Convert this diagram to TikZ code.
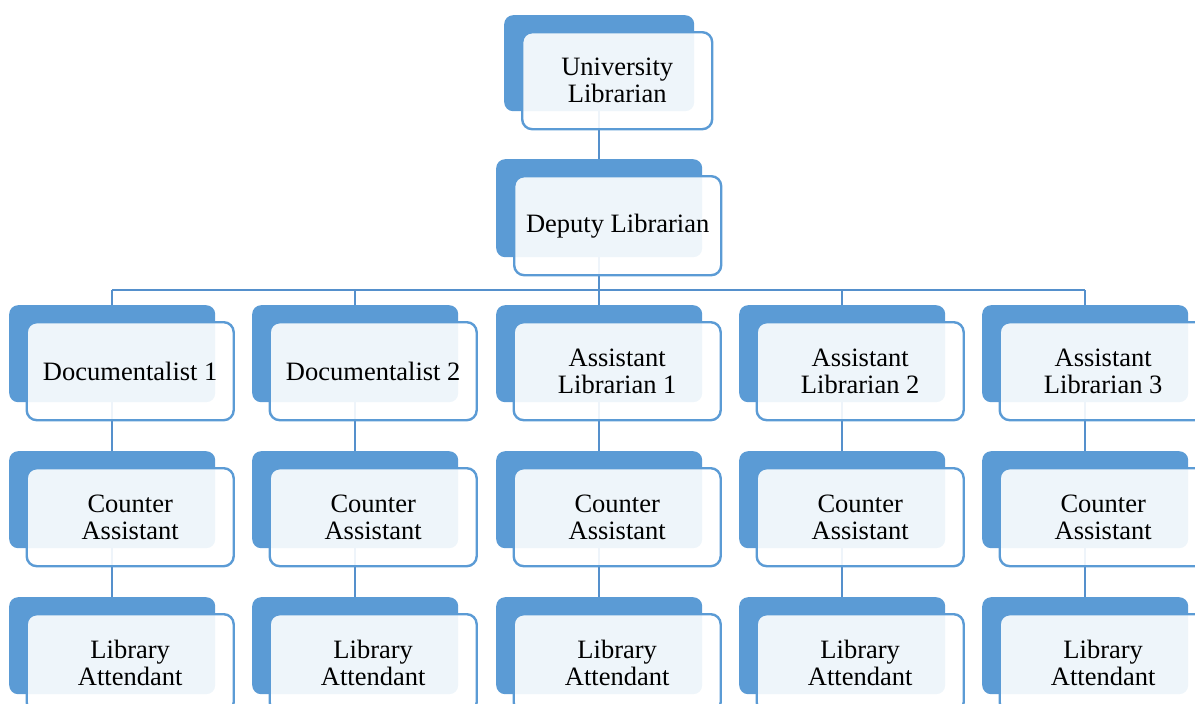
\documentclass[tikz,border=0pt]{standalone}
\usepackage{fontspec}
\setmainfont{Liberation Serif}
\definecolor{accent}{HTML}{5B9BD5}
\definecolor{linkblue}{HTML}{5590CC}
\pgfdeclarelayer{background}
\pgfsetlayers{background,main}
\begin{document}
\begin{tikzpicture}[x=1pt,y=-1pt,
  backbox/.style={fill=accent, rounded corners=9pt, inner sep=0pt,
    minimum width=206pt, minimum height=97pt, anchor=north west},
  frontbox/.style={draw=accent, line width=2.4pt, fill=white, fill opacity=0.9,
    text opacity=1, rounded corners=10pt, inner sep=0pt,
    minimum width=207pt, minimum height=98pt, anchor=north west,
    align=center, font=\fontsize{26.5}{27}\selectfont},
  link/.style={draw=linkblue, line width=2.4pt}]
\clip (0,0) rectangle (1195,704);
\useasboundingbox (0,0) rectangle (1195,704);

% top of the chart
\node[backbox, minimum width=190pt, minimum height=96pt] (ub) at (504,15) {};
\node[frontbox, minimum width=190pt, minimum height=97pt] (uf) at (521,31) {University\\Librarian};
\node[backbox, minimum height=98pt] (db) at (496,159) {};
\node[frontbox, minimum height=99pt] (df) at (513,175) {Deputy Librarian};

% bus level
\coordinate (bus) at (0,290);

% five columns of three posts each
\foreach \c/\x/\ta/\tb/\tc in {
  1/9/{Documentalist 1}/{Counter\\Assistant}/{Library\\Attendant},
  2/252/{Documentalist 2}/{Counter\\Assistant}/{Library\\Attendant},
  3/496/{Assistant\\Librarian 1}/{Counter\\Assistant}/{Library\\Attendant},
  4/739/{Assistant\\Librarian 2}/{Counter\\Assistant}/{Library\\Attendant},
  5/982/{Assistant\\Librarian 3}/{Counter\\Assistant}/{Library\\Attendant}} {
  \node[backbox] (b-\c-1) at (\x,305) {};
  \node[frontbox] (f-\c-1) at (\x+16.5,321) {\ta};
  \node[backbox] (b-\c-2) at (\x,451) {};
  \node[frontbox] (f-\c-2) at (\x+16.5,467) {\tb};
  \node[backbox] (b-\c-3) at (\x,597) {};
  \node[frontbox] (f-\c-3) at (\x+16.5,613) {\tc};
}

% connectors behind the boxes
\begin{pgfonlayer}{background}
  \draw[link] (ub.center) -- (db.center);
  \draw[link] (db.center) -- (db.center |- bus);
  \draw[link] (b-1-1.center |- bus) -- (b-5-1.center |- bus);
  \foreach \c in {1,...,5} {
    \draw[link] (b-\c-1.center |- bus) -- (b-\c-1.center) -- (b-\c-2.center) -- (b-\c-3.center);
  }
\end{pgfonlayer}
\end{tikzpicture}
\end{document}
